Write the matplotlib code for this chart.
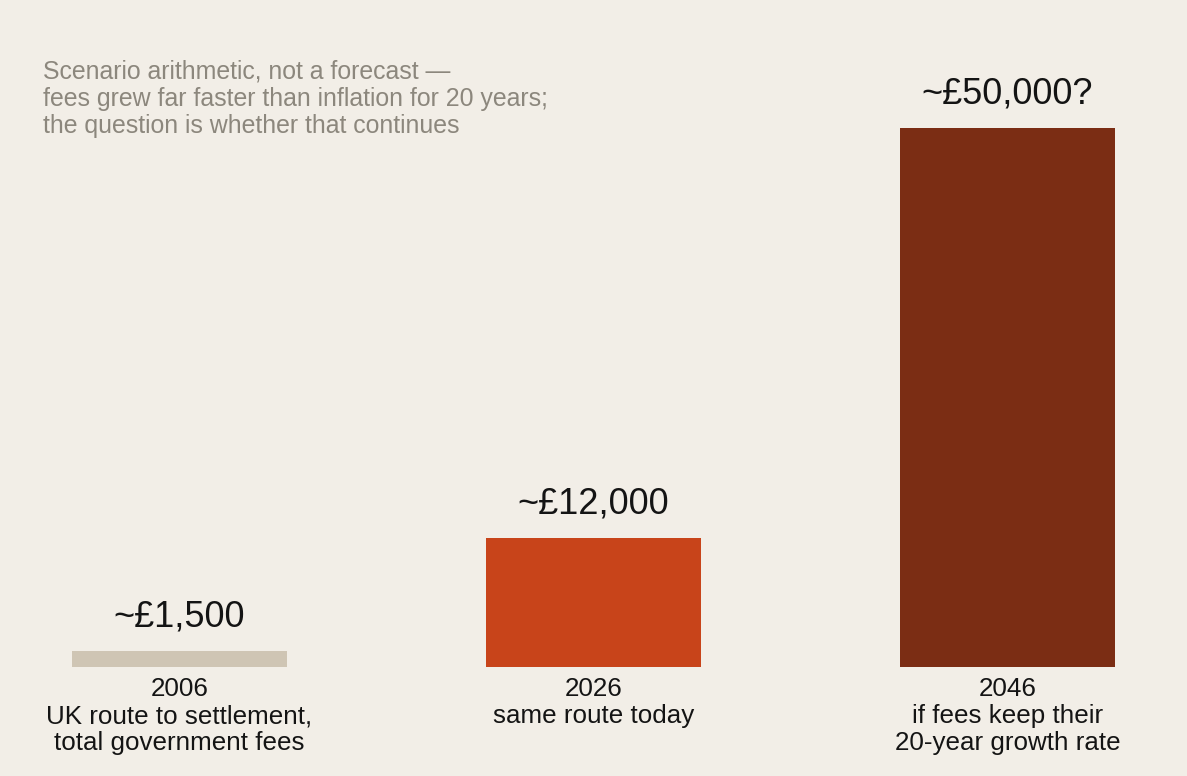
import matplotlib
matplotlib.use("Agg")
import matplotlib.pyplot as plt

years = ["2006", "2026", "2046"]
descriptions = ["UK route to settlement,\ntotal government fees",
                "same route today",
                "if fees keep their\n20-year growth rate"]
values = [1500, 12000, 50000]
value_labels = ["~£1,500", "~£12,000", "~£50,000?"]
colors = ["#CFC5B4", "#C8441A", "#7B2D14"]
subtitle = ("Scenario arithmetic, not a forecast —\n"
            "fees grew far faster than inflation for 20 years;\n"
            "the question is whether that continues")

plt.rcParams['font.family'] = ['Liberation Sans', 'DejaVu Sans']
BG = "#F2EEE7"
W, H = 1187, 776
fig = plt.figure(figsize=(W / 100, H / 100), dpi=100, facecolor=BG)
base_px = 667
ax = fig.add_axes([0, (H - base_px) / H, 1, base_px / H])
ax.set_facecolor(BG)

spacing = 414.0
c0 = 179.5
ax.set_xlim(-c0 / spacing, (W - c0) / spacing)
ax.set_ylim(0, base_px / 539.0 * 50000)

x = list(range(len(values)))
ax.bar(x, values, width=215 / spacing, color=colors)
for xi, v, lab in zip(x, values, value_labels):
    ax.annotate(lab, (xi, v), xytext=(0, 17.5), textcoords="offset points",
                ha="center", va="baseline", fontsize=26, color="#141414")

for xi, yr, d in zip(x, years, descriptions):
    ax.annotate(yr + "\n" + d, (xi, 0), xytext=(0, -7.5), textcoords="offset points",
                ha="center", va="top", fontsize=18.7, color="#141414",
                linespacing=1.16, annotation_clip=False)

for s in ax.spines.values():
    s.set_visible(False)
ax.set_xticks([])
ax.set_yticks([])

fig.text(43 / W, 1 - 60 / H, subtitle, ha="left", va="top", fontsize=17.9,
         color="#8C877D", linespacing=1.15)

fig.savefig("out.png", dpi=100, facecolor=BG)
